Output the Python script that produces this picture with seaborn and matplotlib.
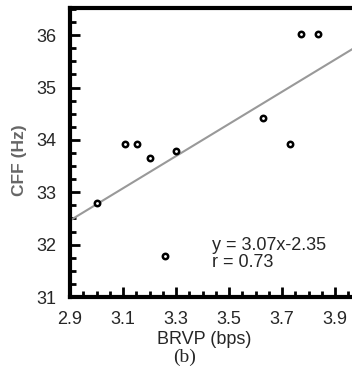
import numpy as np
import pandas as pd
import matplotlib
matplotlib.use("Agg")
import matplotlib.pyplot as plt
import seaborn as sns
from matplotlib.ticker import MultipleLocator

# data
brvp = [3.00, 3.106, 3.152, 3.20, 3.30, 3.26, 3.63, 3.73, 3.77, 3.835]
cff = [32.79, 33.92, 33.92, 33.65, 33.78, 31.78, 34.41, 33.92, 36.03, 36.03]
fit_slope = 3.07
fit_intercept = 23.56
x_ticks = [2.9, 3.1, 3.3, 3.5, 3.7, 3.9]
y_ticks = [31, 32, 33, 34, 35, 36]
xlim = (2.9, 3.976)
ylim = (31, 36.52)

df = pd.DataFrame({"BRVP": brvp, "CFF": cff})
fit = pd.DataFrame({"x": list(xlim)})
fit["y"] = fit_slope * fit["x"] + fit_intercept

sns.set_style("ticks")
plt.rcParams["font.family"] = ["Liberation Sans", "DejaVu Sans"]

fig = plt.figure(figsize=(3.52, 3.76), dpi=100)
ax = fig.add_axes([0.199, 0.21, 0.81, 0.769])

sns.lineplot(data=fit, x="x", y="y", color="#999999", linewidth=1.5, ax=ax)
sns.scatterplot(data=df, x="BRVP", y="CFF", marker="o", s=15,
                facecolor="white", edgecolor="black", linewidth=1.8, ax=ax, zorder=3)

ax.set_xlim(*xlim)
ax.set_ylim(*ylim)
ax.set_xticks(x_ticks)
ax.set_yticks(y_ticks)
ax.set_xticklabels([f"{t:.1f}" for t in x_ticks])
ax.xaxis.set_minor_locator(MultipleLocator(0.05))
ax.yaxis.set_minor_locator(MultipleLocator(0.25))
ax.tick_params(which="major", direction="in", length=7, width=2, labelsize=13, pad=10, color="black")
ax.tick_params(which="minor", direction="in", length=4, width=2, color="black")
ax.tick_params(axis="y", pad=10)

for side in ["left", "bottom", "top"]:
    ax.spines[side].set_linewidth(3)
    ax.spines[side].set_color("black")
ax.spines["right"].set_visible(False)

ax.set_xlabel("BRVP (bps)", fontsize=13)
ax.xaxis.set_label_coords(0.47, -0.118)
ax.set_ylabel("CFF (Hz)", fontsize=12.5, fontweight="bold", color="#666666")
ax.yaxis.set_label_coords(-0.152, 0.474)

ax.text(3.434, 31.82, "y = 3.07x-2.35\nr = 0.73", fontsize=13, linespacing=0.95, va="center", ha="left")

fig.text(0.525, 0.05, "(b)", fontsize=14, family="Liberation Serif", ha="center", va="center")

fig.savefig("out.png", dpi=100)
